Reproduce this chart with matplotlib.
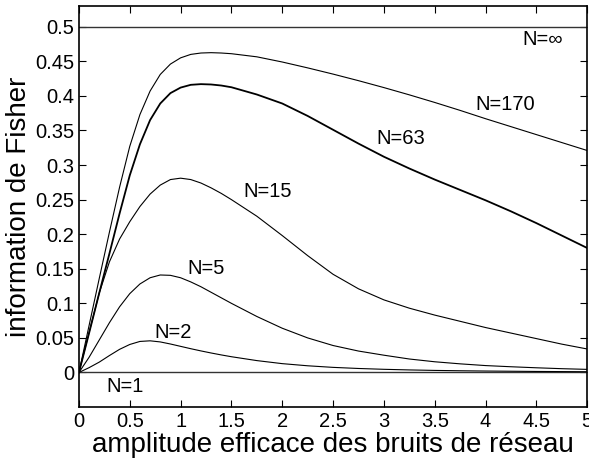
import numpy as np
import matplotlib
matplotlib.use("Agg")
import matplotlib.pyplot as plt

plt.rcParams['font.family'] = ['Liberation Sans', 'DejaVu Sans']

# amplitude efficace du bruit (axe x)
sigma = [0, 0.1, 0.2, 0.3, 0.4, 0.5, 0.6, 0.7, 0.8, 0.9, 1.0, 1.1, 1.2, 1.3,
         1.4, 1.5, 1.75, 2.0, 2.25, 2.5, 2.75, 3.0, 3.25, 3.5, 3.75, 4.0,
         4.25, 4.5, 4.75, 5.0]

# information de Fisher, pour chaque N
fisher_n1 = [0.0] * len(sigma)
fisher_n2 = [0, 0.007, 0.015, 0.0245, 0.0335, 0.0405, 0.0449, 0.0458, 0.0442,
             0.0412, 0.0378, 0.0344, 0.0312, 0.0282, 0.0254, 0.0228, 0.0172,
             0.0128, 0.0097, 0.0074, 0.0058, 0.0046, 0.0037, 0.0030, 0.0025,
             0.0021, 0.0018, 0.0015, 0.0013, 0.0011]
fisher_n5 = [0, 0.022, 0.047, 0.072, 0.095, 0.114, 0.128, 0.137, 0.141, 0.1405,
             0.137, 0.131, 0.124, 0.116, 0.108, 0.100, 0.081, 0.064, 0.050,
             0.039, 0.031, 0.025, 0.0195, 0.0155, 0.0125, 0.010, 0.0083,
             0.0068, 0.0055, 0.0045]
fisher_n15 = [0, 0.058, 0.115, 0.160, 0.193, 0.218, 0.240, 0.258, 0.271, 0.279,
              0.281, 0.279, 0.274, 0.267, 0.259, 0.250, 0.226, 0.198, 0.169,
              0.142, 0.121, 0.105, 0.093, 0.083, 0.074, 0.065, 0.057, 0.049,
              0.041, 0.034]
fisher_n63 = [0, 0.057, 0.115, 0.172, 0.230, 0.285, 0.330, 0.365, 0.389, 0.404,
              0.412, 0.416, 0.417, 0.4165, 0.415, 0.4125, 0.402, 0.389, 0.371,
              0.351, 0.331, 0.312, 0.295, 0.279, 0.264, 0.249, 0.233, 0.216,
              0.198, 0.180]
fisher_n170 = [0, 0.068, 0.136, 0.203, 0.268, 0.327, 0.373, 0.407, 0.431,
               0.446, 0.455, 0.460, 0.462, 0.4625, 0.462, 0.461, 0.4565, 0.449,
               0.4405, 0.4315, 0.422, 0.412, 0.4015, 0.3905, 0.379, 0.367,
               0.3555, 0.344, 0.3325, 0.321]
fisher_inf = [0.5] * len(sigma)

labels = ['N=1', 'N=2', 'N=5', 'N=15', 'N=63', 'N=170', 'N=∞']
label_x = [0.45, 0.925, 1.255, 1.86, 3.17, 4.19, 4.56]
label_y = [-0.020, 0.0575, 0.151, 0.262, 0.338, 0.388, 0.481]

fig = plt.figure(figsize=(5.89, 4.61), dpi=100)
ax = fig.add_axes([0.134, 0.117, 0.863, 0.870])

for curve in [fisher_n1, fisher_inf]:
    ax.plot(sigma, curve, color='#333333', lw=1.0)
for curve in [fisher_n2, fisher_n5, fisher_n15, fisher_n170]:
    ax.plot(sigma, curve, color='black', lw=0.8)
ax.plot(sigma, fisher_n63, color='black', lw=1.3)

for txt, lx, ly in zip(labels, label_x, label_y):
    ax.text(lx, ly, txt, fontsize=14.5, ha='center', va='center')

ax.set_xlim(0, 5)
ax.set_ylim(-0.05, 0.53)
ax.set_xticks(np.arange(0, 5.01, 0.5))
ax.set_xticklabels(['0', '0.5', '1', '1.5', '2', '2.5', '3', '3.5', '4', '4.5', '5'])
ax.set_yticks(np.arange(0, 0.501, 0.05))
ax.set_yticklabels(['0', '0.05', '0.1', '0.15', '0.2', '0.25', '0.3', '0.35',
                    '0.4', '0.45', '0.5'])
ax.tick_params(direction='in', top=True, right=True, length=5, width=0.8,
               labelsize=14.5)
for s in ax.spines.values():
    s.set_linewidth(1.2)

ax.set_xlabel('amplitude efficace des bruits de réseau', fontsize=20, labelpad=1)
ax.set_ylabel('information de Fisher', fontsize=20, labelpad=2)

fig.savefig('out.png', dpi=100)
